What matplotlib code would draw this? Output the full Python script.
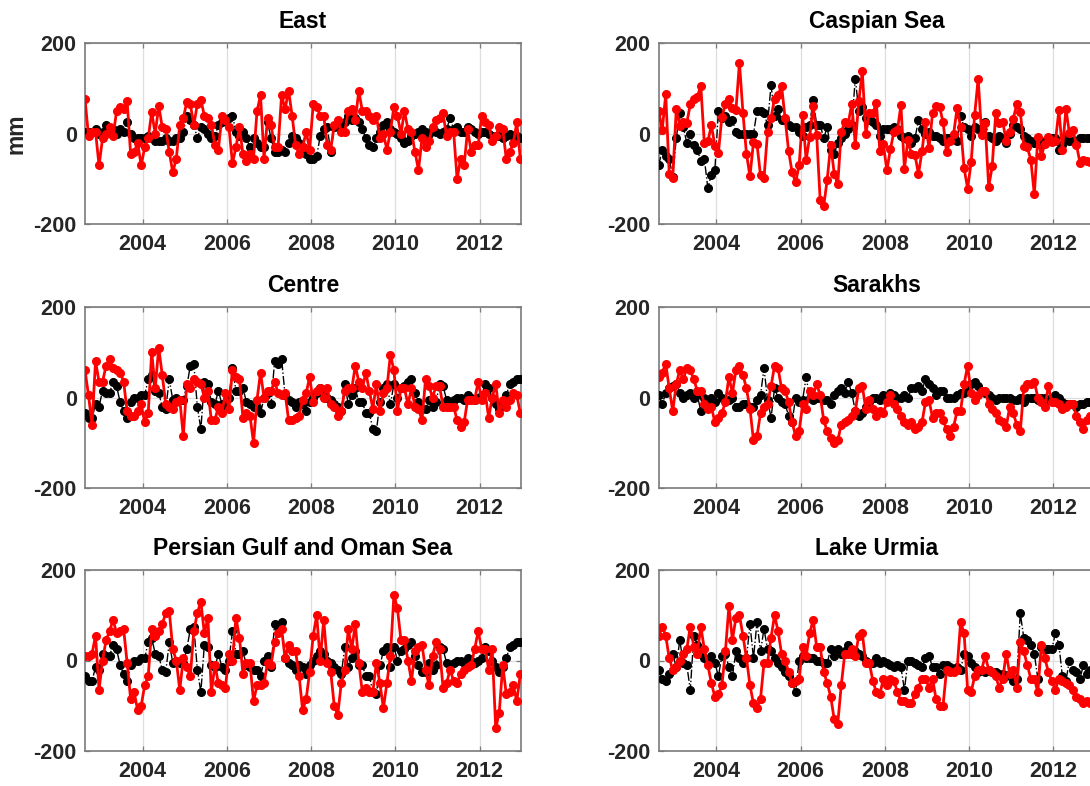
import numpy as np
import matplotlib
matplotlib.use("Agg")
import matplotlib.pyplot as plt

# ---------------- data (monthly, mm) ----------------
t_start = 2002.63
n_months = 125
years = t_start + np.arange(n_months) / 12.0

titles = ["East", "Caspian Sea", "Centre", "Sarakhs",
          "Persian Gulf and Oman Sea", "Lake Urmia"]
xtick_years = [2004, 2006, 2008, 2010, 2012]
ytick_vals = [-200, 0, 200]

east_red = [77, -5, 5, 5, -70, -10, 0, 15, -5, 50,
            60, 55, 72, -45, -40, -20, -70, -30, -10, 48,
            0, 62, 15, 10, -40, -85, -55, 20, 35, 70,
            65, 20, 65, 75, 40, 35, 20, -25, -35, 40,
            30, 15, -65, -30, 15, -45, -60, -45, -55, 50,
            85, -55, 35, 20, -30, -30, 85, 55, 95, 40,
            -25, -45, -30, 5, -35, 65, 60, 40, 40, -25,
            -35, 20, 30, 5, 5, 50, 55, 30, 95, 50,
            50, 40, 30, 40, -10, 0, -35, 5, 60, 40,
            0, 50, 10, 5, -40, -80, -10, -30, -15, 15,
            30, 35, 45, -5, 5, 5, -100, -55, -70, 10,
            -40, -25, -25, 40, 25, 20, -15, -5, 15, 10,
            -55, -40, -20, 25, -55]
east_black = [5, 5, 5, 10, 0, 5, 20, 10, 10, 0,
              10, 5, 25, 0, -10, -10, -10, -10, -5, -10,
              -15, -15, -15, -10, -15, -15, -10, -10, 5, 40,
              30, 20, -10, 15, 10, 0, -10, -5, 20, 25,
              30, 35, 40, 5, -5, 5, -10, -30, -10, -20,
              -30, -30, 25, -10, -40, -40, -35, -40, -20, -5,
              -10, -20, -30, -45, -55, -55, -50, -5, 10, 15,
              -40, 15, 15, 20, 25, 40, 30, 35, 25, 10,
              -10, -25, -30, -10, 5, 20, 25, 10, 5, 0,
              -10, -20, -15, -5, 0, 5, 10, 5, 0, 10,
              5, 0, 5, 10, 35, 10, 15, 5, 5, 15,
              10, 5, 0, 5, 5, 0, -5, -5, -5, -10,
              -5, 0, -5, -5, -10]

caspian_red = [50, 8, 87, -88, -97, 54, 18, 26, 24, 65,
               78, 82, 106, -21, -17, 19, -26, -43, 38, 65,
               77, 58, 52, 157, 46, -44, -94, -18, -23, -92,
               -97, 3, 35, 78, 86, 106, 35, -38, -85, -107,
               -70, 41, -58, -7, 61, -3, -147, -160, -101, -24,
               -88, -112, 4, 26, 24, 66, -24, 72, 138, 0,
               45, 45, 69, -38, -23, -81, -34, 4, 8, 63,
               -77, -13, -45, -47, -89, -39, 25, -32, 45, 61,
               60, 26, -41, -16, -1, 57, 15, -76, -121, -63,
               41, 122, -2, 23, -117, -72, 45, 23, 26, -16,
               4, 33, 65, 49, -26, -30, -57, -134, -7, -49,
               -22, -8, -18, -17, 52, -36, 55, 1, 8, -24,
               -64, -58, -61, -63, -60]
caspian_black = [-70, -35, -50, -55, -95, -10, 45, 15, -20, 0,
                 -25, -35, -60, -55, -120, -90, -80, 50, 35, 40,
                 25, 30, 5, 0, 0, 0, 0, 0, 50, 50,
                 45, 20, 108, 40, 55, 30, 30, 20, 15, 15,
                 5, -5, 15, 20, 75, 20, 20, -10, 15, -35,
                 -45, -20, -10, 0, 10, 20, 122, 50, 60, 35,
                 30, 25, 20, -5, 10, 10, 10, 15, 10, -5,
                 -10, -5, -20, -10, 30, 10, 0, 5, -5, -5,
                 -10, -15, -10, -10, -5, -15, 40, 15, 10, -5,
                 15, 10, 5, 25, -5, -10, -15, -5, -10, -20,
                 0, 20, 15, 10, -5, -10, -15, -20, -20, -25,
                 -15, -15, -10, -10, -35, -25, -10, -15, -15, -15,
                 -10, -10, -10, -10, -10]

centre_red = [60, 5, -60, 80, 35, 35, 70, 85, 65, 60,
              55, 35, -30, -40, -40, -30, -15, -55, -35, 100,
              20, 110, 50, -15, -20, -25, -10, -5, -85, 30,
              20, 40, 35, 30, 0, 15, -50, -50, -20, -35,
              10, -25, 60, 45, 40, -45, -35, -40, -100, -5,
              55, 0, 15, 15, 35, 10, 5, 10, -50, -50,
              -45, -40, -5, 10, 45, -10, 15, 20, 0, 20,
              -15, -20, -40, -30, 15, 20, 20, 70, 35, 20,
              55, 15, -25, 30, -30, 10, 20, 95, 60, -30,
              20, 20, -15, 20, -20, -25, -50, 40, 25, 0,
              25, 25, -20, -20, -20, -20, -50, -65, -55, -5,
              -5, -5, 35, -5, 10, -45, 0, 30, -35, -5,
              -20, -5, 10, 5, -35]
centre_black = [-35, -45, -45, -15, -20, 15, 10, 10, 35, 25,
                -10, -30, -45, -10, 0, 0, 5, 5, 40, 50,
                15, 10, -20, -25, 40, -5, 0, -5, -5, 25,
                70, 75, -20, -70, 35, 30, -10, -15, 15, -15,
                -20, 0, 65, 15, 15, 20, -10, -15, -20, -20,
                -35, 0, 10, -15, 80, 75, 85, 5, -5, -10,
                -20, -10, -15, -30, -10, 0, 10, 20, 15, 0,
                -5, -15, -20, -30, 30, -15, 5, 20, -10, -10,
                -35, -35, -70, -75, -10, 20, 30, -15, 30, 0,
                20, 25, 35, 40, 10, -10, -25, -25, -5, -20,
                -10, 30, 25, -5, -10, -5, 0, 0, -5, 5,
                0, -5, 0, 5, 30, 20, 0, -15, -25, -15,
                5, 30, 35, 40, 40]

sarakhs_red = [45, 55, 75, 20, -30, 30, 60, 40, 65, 60,
               40, 15, 15, -15, -25, -20, -55, -45, -35, -10,
               45, 10, 60, 70, 50, 20, -25, -95, -85, -35,
               -20, -15, 25, 70, 65, 20, 15, -10, -55, -85,
               -75, -15, -25, 15, 5, 30, 5, -50, -75, -90,
               -100, -95, -60, -55, -50, -40, -30, 20, 25, -25,
               -5, -25, -40, -30, -35, -10, 5, -15, -25, -40,
               -55, -60, -55, -70, -65, -55, -10, -5, -45, -35,
               -35, -50, -70, -85, -65, -30, -30, 30, 70, 10,
               -5, 5, 15, 15, -15, -25, -35, -50, -55, -65,
               -20, -35, -60, -75, 20, 30, 30, 35, 0, -10,
               -20, 25, -10, -10, -15, -25, -20, -15, -15, -40,
               -55, -70, -50, -40, -45]
sarakhs_black = [5, -15, 10, 20, 25, 30, 10, 0, 5, 10,
                 0, 5, -30, 0, -5, 0, -10, 10, 0, -5,
                 -5, 0, -20, -20, -15, -15, -20, -20, -5, 5,
                 65, -5, -45, 20, 0, -10, -15, -40, -55, 0,
                 -10, -5, 45, 0, -5, 0, 0, -5, -5, -15,
                 5, 15, 20, 10, 35, 10, -30, -40, -35, -20,
                 -10, 0, 0, -5, 5, -5, 10, 5, 0, 0,
                 5, 0, 20, 20, 25, 15, 40, 30, 20, 5,
                 15, 15, 0, 0, 0, 5, 10, 10, 15, 30,
                 35, 25, 15, 10, 5, 0, -5, 0, 0, 0,
                 0, -5, -5, 0, -10, 0, 0, 0, -5, 0,
                 0, -5, -5, 5, 0, -10, -15, -15, -15, -20,
                 -15, -15, -10, -10, -10]

persian_red = [10, 10, 15, 55, -65, 0, 45, 65, 90, 60,
               65, 70, -5, -85, -70, -110, -100, -55, -35, 70,
               55, 65, 80, 105, 110, 25, 0, -65, 5, -15,
               -35, 65, 105, 130, 60, 95, -70, -10, -50, -55,
               -60, 15, 0, 95, 50, -30, -5, -5, -90, -55,
               -55, -50, -5, -10, 40, 60, 70, 5, 35, 20,
               20, -35, -110, -85, -25, 55, 100, 0, 90, -5,
               -25, -100, -120, -50, -20, 70, 25, 80, -5, -70,
               -60, -70, -70, -5, -50, -105, -50, 10, 145, 115,
               45, 45, 0, -45, 20, 30, 35, -20, -55, 10,
               40, 25, -60, -50, -20, -45, -50, -30, -20, -15,
               -10, 25, 65, 25, 25, -20, 25, -150, -115, -10,
               -75, -70, -55, -90, -30]
persian_black = list(centre_black)

urmia_red = [55, 75, 55, 5, -20, -15, 0, 15, 25, 75,
             30, 15, 75, 25, -10, -50, -80, -75, -55, 20,
             120, 45, 95, 100, 55, 5, -55, -95, -105, -85,
             -5, -5, 50, 100, 65, 15, 0, -25, -50, -45,
             -40, 30, 10, 60, 90, 30, 30, -25, -50, -80,
             -130, -140, -55, 15, 15, 25, 10, 55, 60, -5,
             -5, -45, -70, -75, -40, -55, -40, -45, -70, -90,
             -90, -95, -95, -75, -60, -40, -40, -60, -40, -85,
             -100, -100, -20, -25, -25, -20, 85, 60, -65, -70,
             -35, -20, -20, 10, -20, -25, -35, -60, -40, 15,
             -30, -20, -60, 40, 20, -10, -40, -40, -70, 35,
             5, -25, -45, -65, -40, -45, -50, -55, -65, -80,
             -85, -95, -90, -95, -100]
urmia_black = [-20, -40, -45, -30, 15, -15, 45, -5, -10, -65,
               55, 35, 15, 5, 0, 10, -5, -35, 10, 15,
               -15, -35, 20, 5, -5, 5, 80, 5, 85, 20,
               70, 25, 20, 5, -5, -15, -25, -35, -50, -70,
               0, 10, 5, 5, 5, 0, 0, -5, -5, 25,
               10, 25, 15, 20, 35, 15, 20, 15, 10, 0,
               -5, -5, 5, -5, 0, -5, -10, -15, -10, -15,
               -65, 0, 0, -5, -10, -15, 5, 10, -15, -15,
               -30, -10, -10, -15, -20, -15, -20, 15, 10, -5,
               -15, -25, -20, -25, -20, -25, -25, -30, -30, -35,
               -30, -45, -40, 105, 50, 45, 35, 15, -40, 30,
               25, 25, 25, 60, 35, -35, -45, 0, -20, -25,
               -40, -10, -30, -20, -15]

red_series = [east_red, caspian_red, centre_red, sarakhs_red, persian_red, urmia_red]
black_series = [east_black, caspian_black, centre_black, sarakhs_black, persian_black, urmia_black]

# ---------------- figure ----------------
plt.rcParams['font.family'] = ['Liberation Sans', 'DejaVu Sans']
plt.rcParams['font.weight'] = 'bold'

W, H = 1090, 786
fig = plt.figure(figsize=(W / 100, H / 100), dpi=100)
fig.patch.set_facecolor('white')

col_left = [85, 658.7]
ax_w = 436
row_top = [43.3, 307, 570]
ax_h = 181

for k in range(6):
    r, c = divmod(k, 2)
    x0 = col_left[c] / W
    y0 = 1 - (row_top[r] + ax_h) / H
    ax = fig.add_axes([x0, y0, ax_w / W, ax_h / H])
    ax.plot(years, black_series[k], linestyle='-.', color='black', lw=1.0,
            marker='o', ms=5.5, mfc='black', mec='black', zorder=3)
    ax.plot(years, red_series[k], linestyle='-', color='#ff0000', lw=2.0,
            marker='o', ms=5.5, mfc='#ff0000', mec='#ff0000', zorder=4)
    ax.set_xlim(2002.63, 2012.98)
    ax.set_ylim(-200, 200)
    ax.set_xticks(xtick_years)
    ax.set_yticks(ytick_vals)
    ax.set_xticklabels([str(v) for v in xtick_years])
    ax.set_yticklabels([str(v) for v in ytick_vals])
    ax.grid(True, color='#dedede', lw=0.9, zorder=0)
    ax.set_axisbelow(True)
    ax.tick_params(axis='both', direction='in', length=3.5, width=0.9,
                   color='#7a7a7a', labelcolor='#262626', labelsize=15.5,
                   top=True, right=True)
    ax.tick_params(axis='x', pad=7)
    ax.tick_params(axis='y', pad=6)
    for lab in ax.get_xticklabels() + ax.get_yticklabels():
        lab.set_fontweight('bold')
    for s in ax.spines.values():
        s.set_color('#7a7a7a')
        s.set_linewidth(1.2)
    ax.set_title(titles[k], fontsize=16.5, fontweight='bold', color='black', pad=11)
    if k == 0:
        ax.set_ylabel('mm', fontsize=16.5, fontweight='bold', color='#262626')
        ax.yaxis.set_label_coords(-0.133, 0.5)

fig.savefig('out.png', dpi=100, facecolor='white')
